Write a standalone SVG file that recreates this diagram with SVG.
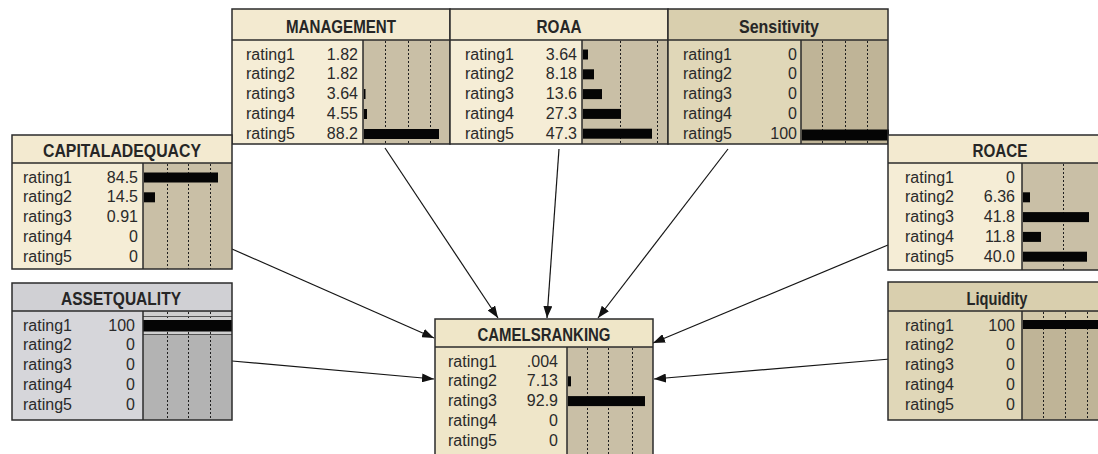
<svg xmlns="http://www.w3.org/2000/svg" width="1098" height="454" viewBox="0 0 1098 454">
  <style>
    .frame { stroke: #2b2b2b; stroke-width: 1.5; }
    .rule { stroke: #2b2b2b; stroke-width: 1.5; }
    .cream { fill: #f5edd6; }
    .creamhd { fill: #f3ead0; }
    .tan { fill: #e0d7b8; }
    .tanhd { fill: #d9cfae; }
    .grey { fill: #d6d6da; }
    .greyhd { fill: #d0d0d4; }
    .barbg { fill: #c9bfa6; }
    .barbg-tan { fill: #bfb497; }
    .barbg-grey { fill: #b3b3b3; }
    .grid { stroke: #1e1e1e; stroke-width: 1; stroke-dasharray: 2 2; }
    .bar { fill: #050505; }
    .txt { font-family: "Liberation Sans", Arial, sans-serif; font-size: 16px; fill: #2a2a2a; }
    .val { text-anchor: end; }
    .hdr { font-family: "Liberation Sans", Arial, sans-serif; font-size: 19px; font-weight: bold; fill: #262626; text-anchor: middle; }
    .edge { stroke: #151515; stroke-width: 1.2; fill: none; marker-end: url(#arrow); }
  </style>
  <defs>
    <marker id="arrow" markerUnits="userSpaceOnUse" markerWidth="12" markerHeight="9" refX="12" refY="4.5" orient="auto">
      <path d="M0,0 L12,4.5 L0,9 z" fill="#111"/>
    </marker>
  </defs>

  <rect width="1098" height="454" fill="#ffffff"/>

  <!-- connectors: parents feed into CAMELSRANKING -->
  <g id="connectors">
    <line class="edge" x1="385" y1="148" x2="498" y2="318"/>
    <line class="edge" x1="559" y1="149" x2="547" y2="318"/>
    <line class="edge" x1="728" y1="149" x2="598" y2="318"/>
    <line class="edge" x1="232" y1="249" x2="434" y2="338"/>
    <line class="edge" x1="232" y1="361" x2="434" y2="379"/>
    <line class="edge" x1="888" y1="245" x2="653" y2="343"/>
    <line class="edge" x1="890" y1="359" x2="654" y2="379"/>
  </g>

  <!-- MANAGEMENT -->
  <g id="management">
    <rect class="creamhd" x="232" y="9" width="218" height="31"/>
    <rect class="cream" x="232" y="40" width="131" height="104"/>
    <rect class="barbg" x="363" y="40" width="87" height="104"/>
    <line class="grid" x1="385.5" y1="41" x2="385.5" y2="144"/>
    <line class="grid" x1="408.5" y1="41" x2="408.5" y2="144"/>
    <line class="grid" x1="430.5" y1="41" x2="430.5" y2="144"/>
    <rect class="bar" x="364" y="89" width="1.5" height="10"/>
    <rect class="bar" x="364" y="109" width="3" height="10"/>
    <rect class="bar" x="364" y="129" width="75" height="10"/>
    <rect class="frame" x="232" y="9" width="218" height="135" fill="none"/>
    <line class="rule" x1="232" y1="40" x2="450" y2="40"/>
    <line class="rule" x1="363" y1="40" x2="363" y2="144"/>
    <text class="hdr" x="341" y="33" textLength="110" lengthAdjust="spacingAndGlyphs">MANAGEMENT</text>
    <text class="txt" x="246" y="59.5">rating1</text><text class="txt val" x="358" y="59.5">1.82</text>
    <text class="txt" x="246" y="79.3">rating2</text><text class="txt val" x="358" y="79.3">1.82</text>
    <text class="txt" x="246" y="99.1">rating3</text><text class="txt val" x="358" y="99.1">3.64</text>
    <text class="txt" x="246" y="118.9">rating4</text><text class="txt val" x="358" y="118.9">4.55</text>
    <text class="txt" x="246" y="138.7">rating5</text><text class="txt val" x="358" y="138.7">88.2</text>
  </g>

  <!-- ROAA -->
  <g id="roaa">
    <rect class="creamhd" x="450" y="9" width="218" height="31"/>
    <rect class="cream" x="450" y="40" width="132" height="104"/>
    <rect class="barbg" x="582" y="40" width="86" height="104"/>
    <line class="grid" x1="620.5" y1="41" x2="620.5" y2="144"/>
    <line class="grid" x1="657.5" y1="41" x2="657.5" y2="144"/>
    <rect class="bar" x="583" y="49.5" width="5" height="10"/>
    <rect class="bar" x="583" y="69.3" width="11" height="10"/>
    <rect class="bar" x="583" y="89.1" width="19" height="10"/>
    <rect class="bar" x="583" y="108.9" width="38" height="10"/>
    <rect class="bar" x="583" y="128.7" width="69" height="10"/>
    <rect class="frame" x="450" y="9" width="218" height="135" fill="none"/>
    <line class="rule" x1="450" y1="40" x2="668" y2="40"/>
    <line class="rule" x1="582" y1="40" x2="582" y2="144"/>
    <text class="hdr" x="559" y="33" textLength="45" lengthAdjust="spacingAndGlyphs">ROAA</text>
    <text class="txt" x="465" y="59.5">rating1</text><text class="txt val" x="577" y="59.5">3.64</text>
    <text class="txt" x="465" y="79.3">rating2</text><text class="txt val" x="577" y="79.3">8.18</text>
    <text class="txt" x="465" y="99.1">rating3</text><text class="txt val" x="577" y="99.1">13.6</text>
    <text class="txt" x="465" y="118.9">rating4</text><text class="txt val" x="577" y="118.9">27.3</text>
    <text class="txt" x="465" y="138.7">rating5</text><text class="txt val" x="577" y="138.7">47.3</text>
  </g>

  <!-- Sensitivity -->
  <g id="sensitivity">
    <rect class="tanhd" x="668" y="9" width="220" height="31"/>
    <rect class="tan" x="668" y="40" width="133" height="104"/>
    <rect class="barbg-tan" x="801" y="40" width="87" height="104"/>
    <line class="grid" x1="822.5" y1="41" x2="822.5" y2="144"/>
    <line class="grid" x1="845.5" y1="41" x2="845.5" y2="144"/>
    <line class="grid" x1="867.5" y1="41" x2="867.5" y2="144"/>
    <rect class="bar" x="802" y="129.5" width="87" height="11"/>
    <rect class="frame" x="668" y="9" width="220" height="135" fill="none"/>
    <line class="rule" x1="668" y1="40" x2="888" y2="40"/>
    <line class="rule" x1="801" y1="40" x2="801" y2="144"/>
    <text class="hdr" x="779" y="33" textLength="80" lengthAdjust="spacingAndGlyphs">Sensitivity</text>
    <text class="txt" x="683" y="59.5">rating1</text><text class="txt val" x="797" y="59.5">0</text>
    <text class="txt" x="683" y="79.3">rating2</text><text class="txt val" x="797" y="79.3">0</text>
    <text class="txt" x="683" y="99.1">rating3</text><text class="txt val" x="797" y="99.1">0</text>
    <text class="txt" x="683" y="118.9">rating4</text><text class="txt val" x="797" y="118.9">0</text>
    <text class="txt" x="683" y="138.7">rating5</text><text class="txt val" x="797" y="138.7">100</text>
  </g>

  <!-- CAPITALADEQUACY -->
  <g id="capitaladequacy">
    <rect class="creamhd" x="12" y="135" width="220" height="28"/>
    <rect class="cream" x="12" y="163" width="131" height="106"/>
    <rect class="barbg" x="143" y="163" width="89" height="106"/>
    <line class="grid" x1="167.5" y1="164" x2="167.5" y2="269"/>
    <line class="grid" x1="188.5" y1="164" x2="188.5" y2="269"/>
    <line class="grid" x1="210.5" y1="164" x2="210.5" y2="269"/>
    <rect class="bar" x="144" y="172.5" width="74" height="10"/>
    <rect class="bar" x="144" y="192.3" width="11" height="10"/>
    <rect class="frame" x="12" y="135" width="220" height="134" fill="none"/>
    <line class="rule" x1="12" y1="163" x2="232" y2="163"/>
    <line class="rule" x1="143" y1="163" x2="143" y2="269"/>
    <text class="hdr" x="122" y="157" textLength="158" lengthAdjust="spacingAndGlyphs">CAPITALADEQUACY</text>
    <text class="txt" x="23" y="182.5">rating1</text><text class="txt val" x="138" y="182.5">84.5</text>
    <text class="txt" x="23" y="202.3">rating2</text><text class="txt val" x="138" y="202.3">14.5</text>
    <text class="txt" x="23" y="222.1">rating3</text><text class="txt val" x="138" y="222.1">0.91</text>
    <text class="txt" x="23" y="241.9">rating4</text><text class="txt val" x="138" y="241.9">0</text>
    <text class="txt" x="23" y="261.7">rating5</text><text class="txt val" x="138" y="261.7">0</text>
  </g>

  <!-- ROACE -->
  <g id="roace">
    <rect class="creamhd" x="888" y="135" width="224" height="28"/>
    <rect class="cream" x="888" y="163" width="134" height="107"/>
    <rect class="barbg" x="1022" y="163" width="90" height="107"/>
    <line class="grid" x1="1063.5" y1="164" x2="1063.5" y2="270"/>
    <rect class="bar" x="1023" y="192.3" width="7" height="10"/>
    <rect class="bar" x="1023" y="212.1" width="66" height="10"/>
    <rect class="bar" x="1023" y="231.9" width="18" height="10"/>
    <rect class="bar" x="1023" y="251.7" width="64" height="10"/>
    <rect class="frame" x="888" y="135" width="224" height="135" fill="none"/>
    <line class="rule" x1="888" y1="163" x2="1112" y2="163"/>
    <line class="rule" x1="1022" y1="163" x2="1022" y2="270"/>
    <text class="hdr" x="1000" y="157" textLength="55" lengthAdjust="spacingAndGlyphs">ROACE</text>
    <text class="txt" x="905" y="182.5">rating1</text><text class="txt val" x="1015" y="182.5">0</text>
    <text class="txt" x="905" y="202.3">rating2</text><text class="txt val" x="1015" y="202.3">6.36</text>
    <text class="txt" x="905" y="222.1">rating3</text><text class="txt val" x="1015" y="222.1">41.8</text>
    <text class="txt" x="905" y="241.9">rating4</text><text class="txt val" x="1015" y="241.9">11.8</text>
    <text class="txt" x="905" y="261.7">rating5</text><text class="txt val" x="1015" y="261.7">40.0</text>
  </g>

  <!-- ASSETQUALITY -->
  <g id="assetquality">
    <rect class="greyhd" x="12" y="283" width="220" height="28"/>
    <rect class="grey" x="12" y="311" width="131" height="109"/>
    <rect class="barbg-grey" x="143" y="311" width="89" height="109"/>
    <rect x="143" y="312" width="89" height="22" fill="#cfcfcf"/>
    <line class="grid" x1="167.5" y1="312" x2="167.5" y2="420"/>
    <line class="grid" x1="188.5" y1="312" x2="188.5" y2="420"/>
    <line class="grid" x1="210.5" y1="312" x2="210.5" y2="420"/>
    <line x1="143" y1="316.5" x2="232" y2="316.5" stroke="#555" stroke-width="1"/>
    <line x1="143" y1="334.5" x2="232" y2="334.5" stroke="#555" stroke-width="1"/>
    <rect class="bar" x="143" y="320" width="89" height="11.5"/>
    <rect class="frame" x="12" y="283" width="220" height="137" fill="none"/>
    <line class="rule" x1="12" y1="311" x2="232" y2="311"/>
    <line class="rule" x1="143" y1="311" x2="143" y2="420"/>
    <text class="hdr" x="121" y="305" textLength="120" lengthAdjust="spacingAndGlyphs">ASSETQUALITY</text>
    <text class="txt" x="23" y="330.5">rating1</text><text class="txt val" x="135" y="330.5">100</text>
    <text class="txt" x="23" y="350.3">rating2</text><text class="txt val" x="135" y="350.3">0</text>
    <text class="txt" x="23" y="370.1">rating3</text><text class="txt val" x="135" y="370.1">0</text>
    <text class="txt" x="23" y="389.9">rating4</text><text class="txt val" x="135" y="389.9">0</text>
    <text class="txt" x="23" y="409.7">rating5</text><text class="txt val" x="135" y="409.7">0</text>
  </g>

  <!-- Liquidity -->
  <g id="liquidity">
    <rect class="tanhd" x="888" y="282" width="218" height="29"/>
    <rect class="tan" x="888" y="311" width="134" height="109"/>
    <rect class="barbg-tan" x="1022" y="311" width="84" height="109"/>
    <rect x="1022" y="312" width="84" height="8" fill="#d2c8a9"/>
    <line class="grid" x1="1043.5" y1="312" x2="1043.5" y2="420"/>
    <line class="grid" x1="1065.5" y1="312" x2="1065.5" y2="420"/>
    <line class="grid" x1="1087.5" y1="312" x2="1087.5" y2="420"/>
    <rect class="bar" x="1023" y="320" width="83" height="9"/>
    <rect class="frame" x="888" y="282" width="218" height="138" fill="none"/>
    <line class="rule" x1="888" y1="311" x2="1106" y2="311"/>
    <line class="rule" x1="1022" y1="311" x2="1022" y2="420"/>
    <text class="hdr" x="997" y="305" textLength="61" lengthAdjust="spacingAndGlyphs">Liquidity</text>
    <text class="txt" x="905" y="330.5">rating1</text><text class="txt val" x="1015" y="330.5">100</text>
    <text class="txt" x="905" y="350.3">rating2</text><text class="txt val" x="1015" y="350.3">0</text>
    <text class="txt" x="905" y="370.1">rating3</text><text class="txt val" x="1015" y="370.1">0</text>
    <text class="txt" x="905" y="389.9">rating4</text><text class="txt val" x="1015" y="389.9">0</text>
    <text class="txt" x="905" y="409.7">rating5</text><text class="txt val" x="1015" y="409.7">0</text>
  </g>

  <!-- CAMELSRANKING -->
  <g id="camelsranking">
    <rect x="435" y="319" width="218" height="28" fill="#efe6c8"/>
    <rect x="435" y="347" width="132" height="110" fill="#efe6c9"/>
    <rect class="barbg" x="567" y="347" width="86" height="110"/>
    <line class="grid" x1="587.5" y1="348" x2="587.5" y2="454"/>
    <line class="grid" x1="608.5" y1="348" x2="608.5" y2="454"/>
    <line class="grid" x1="632.5" y1="348" x2="632.5" y2="454"/>
    <rect class="bar" x="568" y="376.3" width="3" height="10"/>
    <rect class="bar" x="568" y="396.1" width="77" height="10"/>
    <rect class="frame" x="435" y="319" width="218" height="140" fill="none"/>
    <line class="rule" x1="435" y1="347" x2="653" y2="347"/>
    <line class="rule" x1="567" y1="347" x2="567" y2="454"/>
    <text class="hdr" x="544" y="341" textLength="133" lengthAdjust="spacingAndGlyphs">CAMELSRANKING</text>
    <text class="txt" x="448" y="366.5">rating1</text><text class="txt val" x="558" y="366.5">.004</text>
    <text class="txt" x="448" y="386.3">rating2</text><text class="txt val" x="558" y="386.3">7.13</text>
    <text class="txt" x="448" y="406.1">rating3</text><text class="txt val" x="558" y="406.1">92.9</text>
    <text class="txt" x="448" y="425.9">rating4</text><text class="txt val" x="558" y="425.9">0</text>
    <text class="txt" x="448" y="445.7">rating5</text><text class="txt val" x="558" y="445.7">0</text>
  </g>
</svg>
